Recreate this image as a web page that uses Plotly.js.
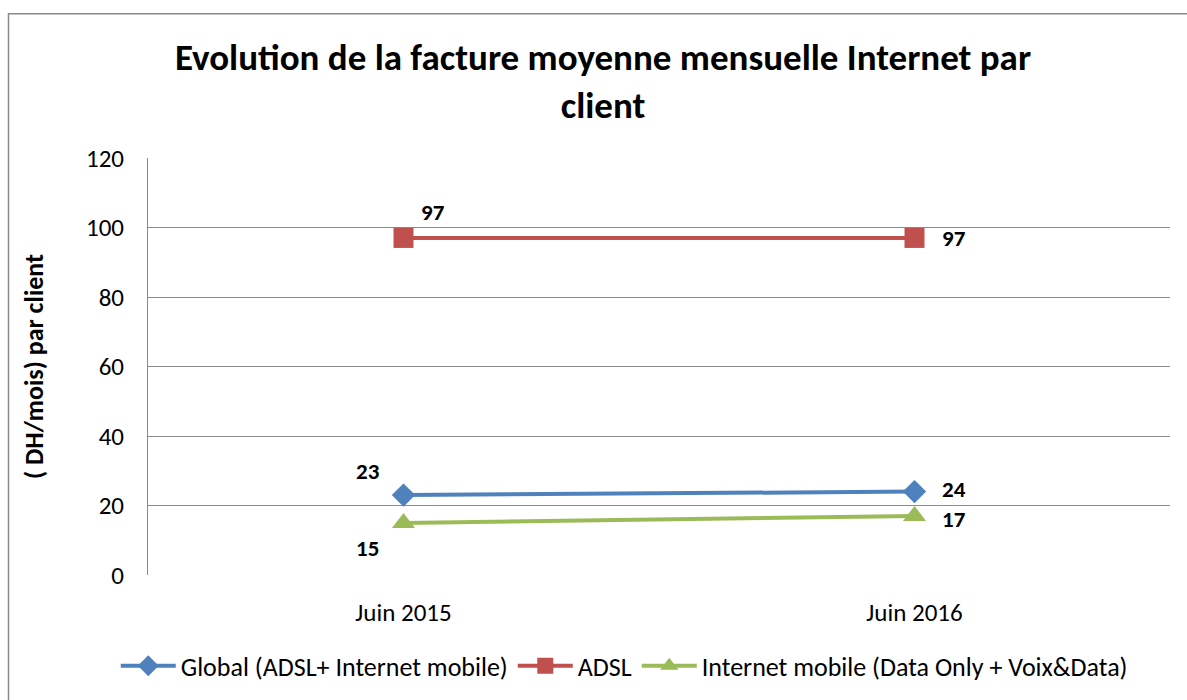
<!DOCTYPE html>
<html>
<head>
<meta charset="utf-8">
<script src="https://cdn.plot.ly/plotly-3.0.1.min.js"></script>
<style>html,body{margin:0;padding:0;background:#fff;}#chart{width:1187px;height:700px;}</style>
</head>
<body>
<div id="chart"></div>
<script>
// ---- data ----
const categories = ["Juin 2015", "Juin 2016"];
const seriesNames = ["Global (ADSL+ Internet mobile)", "ADSL", "Internet mobile (Data Only + Voix&Data)"];
const globalValues = [23, 24];
const adslValues = [97, 97];
const mobileValues = [15, 17];
const yTickValues = [0, 20, 40, 60, 80, 100, 120];

// ---- styles ----
const FONT = "Carlito, Calibri, Lato, 'Open Sans', sans-serif";
const colors = ["#4F81BD", "#C0504D", "#9BBB59"];
const symbols = ["diamond", "square", "triangle-up"];
const markerSizes = [18, 20, 20];
// label offsets (px, y positive = up) per series per point
const labelOffsets = [
  [[-36, 24], [39, 3]],
  [[29, 26], [39, 0]],
  [[-36, -25], [39, -3]]
];

const allValues = [globalValues, adslValues, mobileValues];

const traces = allValues.map((vals, i) => ({
  type: "scatter",
  mode: "lines+markers",
  name: seriesNames[i],
  x: categories,
  y: vals,
  line: {color: colors[i], width: 4},
  marker: {symbol: symbols[i], size: markerSizes[i], color: colors[i]},
  hoverinfo: "x+y"
}));

const annotations = [];
allValues.forEach((vals, i) => {
  vals.forEach((v, j) => {
    annotations.push({
      x: categories[j], y: v, xref: "x", yref: "y",
      text: "<b>" + v + "</b>", showarrow: false,
      xshift: labelOffsets[i][j][0], yshift: labelOffsets[i][j][1],
      borderpad: 0,
      font: {family: FONT, size: 23, color: "#000"}
    });
  });
});

const layout = {
  width: 1187, height: 700,
  paper_bgcolor: "#fff", plot_bgcolor: "#fff",
  margin: {l: 148, r: 17, t: 158, b: 124},
  font: {family: FONT, color: "#000"},
  title: {
    text: "<b>Evolution de la facture moyenne mensuelle Internet par<br>client</b>",
    font: {family: FONT, size: 37, color: "#000"},
    x: 0.508, xanchor: "center", y: 0.9, yanchor: "top"
  },
  xaxis: {
    type: "category", range: [-0.5, 1.5],
    showgrid: false, zeroline: false,
    showline: false, ticks: "",
    ticklabelstandoff: 20,
    tickfont: {family: FONT, size: 25, color: "#000"},
    fixedrange: true
  },
  yaxis: {
    range: [0, 120], tickvals: yTickValues,
    showgrid: true, gridcolor: "#8a8a8a", gridwidth: 1,
    zeroline: false, showline: true, linecolor: "#8a8a8a", linewidth: 1,
    ticks: "", ticklen: 0,
    ticklabelstandoff: 18,
    tickfont: {family: FONT, size: 25, color: "#000"},
    title: {text: "<b>( DH/mois) par client</b>", font: {family: FONT, size: 26, color: "#000"}, standoff: 34},
    fixedrange: true
  },
  legend: {
    orientation: "h", x: 0.466, xanchor: "center", y: -0.215, yanchor: "middle",
    font: {family: FONT, size: 26, color: "#000"},
    itemwidth: 55, tracegroupgap: 0
  },
  annotations: annotations,
  shapes: [
    {type: "rect", xref: "paper", yref: "paper",
     x0: (8.5 - 148) / 1022, x1: (1205 - 148) / 1022,
     y0: (576 - 710) / 418, y1: (576 - 13.5) / 418,
     line: {color: "#8a8a8a", width: 1.5}, fillcolor: "rgba(0,0,0,0)", layer: "below"}
  ],
  showlegend: true
};

Plotly.newPlot("chart", traces, layout, {displayModeBar: false});
</script>
</body>
</html>
